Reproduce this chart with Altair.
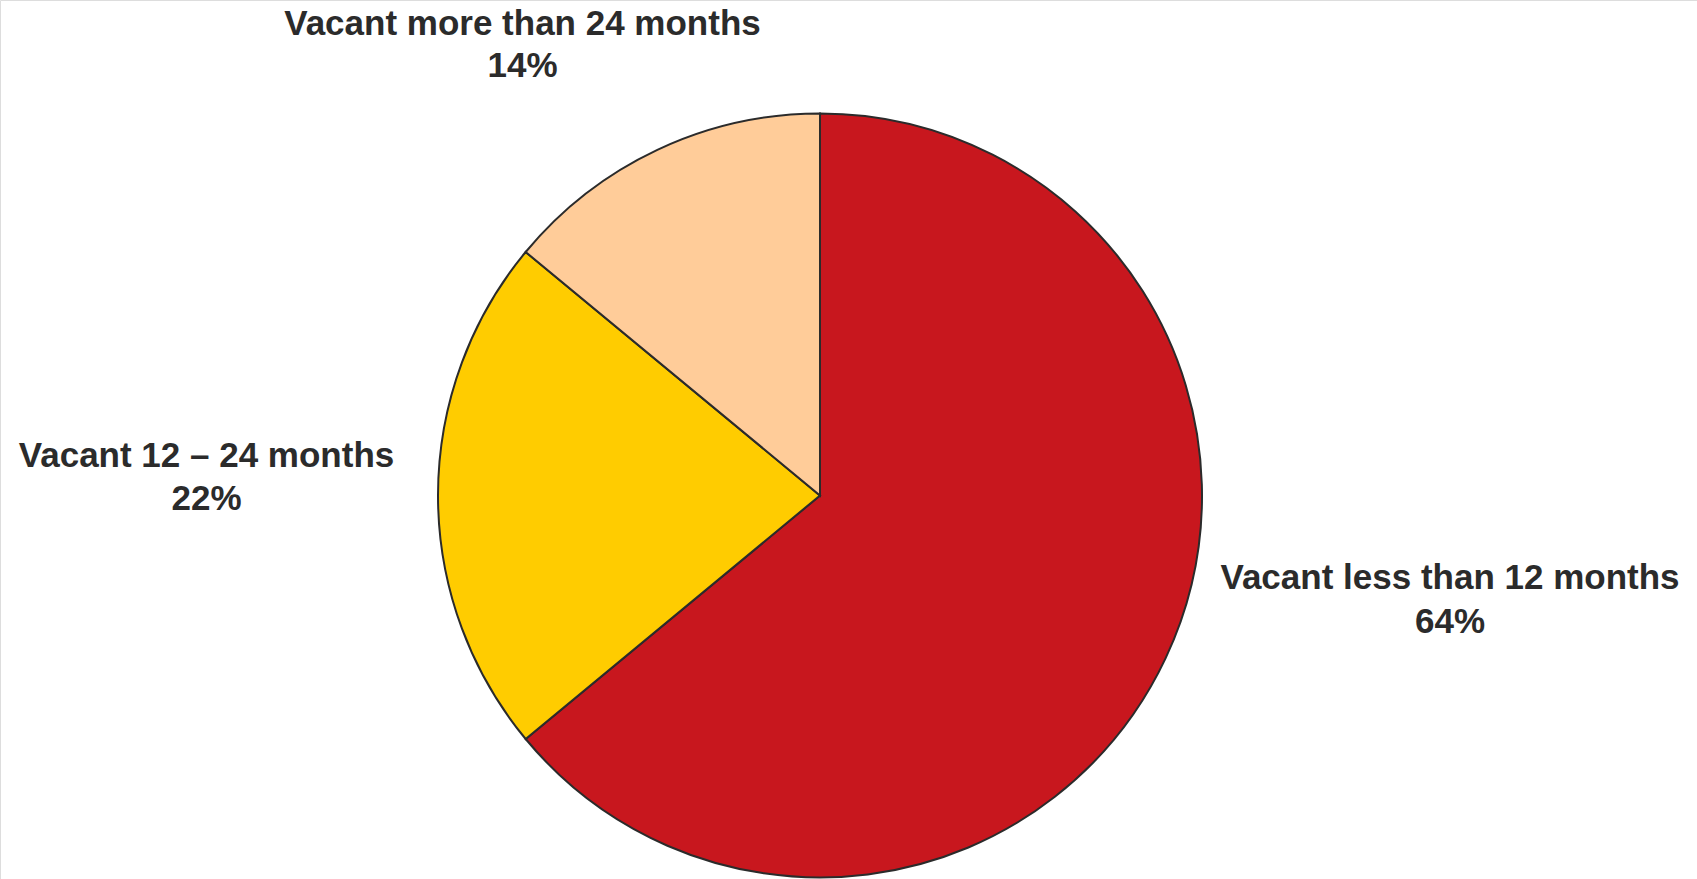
import altair as alt
import pandas as pd

categories = ["Vacant less than 12 months", "Vacant 12 – 24 months", "Vacant more than 24 months"]
shares = [64, 22, 14]
colors = ["#C8171E", "#FFCC00", "#FFCC99"]

df = pd.DataFrame({"category": categories, "share": shares, "order": [0, 1, 2]})

W, H = 1697, 879
CX, CY, R = 820, 495.5, 382

base = alt.Chart(df)

pie = base.mark_arc(radius=R, stroke="#2b2b2b", strokeWidth=2).encode(
    theta=alt.Theta("share:Q", stack=True),
    order=alt.Order("order:Q"),
    color=alt.Color("category:N", scale=alt.Scale(domain=categories, range=colors), legend=None),
    x=alt.value(CX),
    y=alt.value(CY),
)

label_pos = {
    categories[0]: (1450, 589, 44),
    categories[1]: (206.5, 467, 43),
    categories[2]: (522.5, 35, 42),
}

layers = [pie]
for cat, (lx, ly, lh) in label_pos.items():
    layers.append(
        base.transform_filter(alt.datum.category == cat)
        .transform_calculate(txt="datum.category + '\\n' + datum.share + '%'")
        .mark_text(font="Liberation Sans", fontWeight="bold", fontSize=35, color="#2b2b2b",
                   align="center", baseline="alphabetic", lineBreak="\n", lineHeight=lh)
        .encode(text="txt:N", x=alt.value(lx), y=alt.value(ly))
    )

chart = alt.layer(*layers).properties(
    width=W, height=H, padding=0, autosize=alt.AutoSizeParams(type="none")
).configure_view(stroke=None).configure(background="white")

chart.save("out.html", embed_options={"renderer": "svg", "actions": False})
